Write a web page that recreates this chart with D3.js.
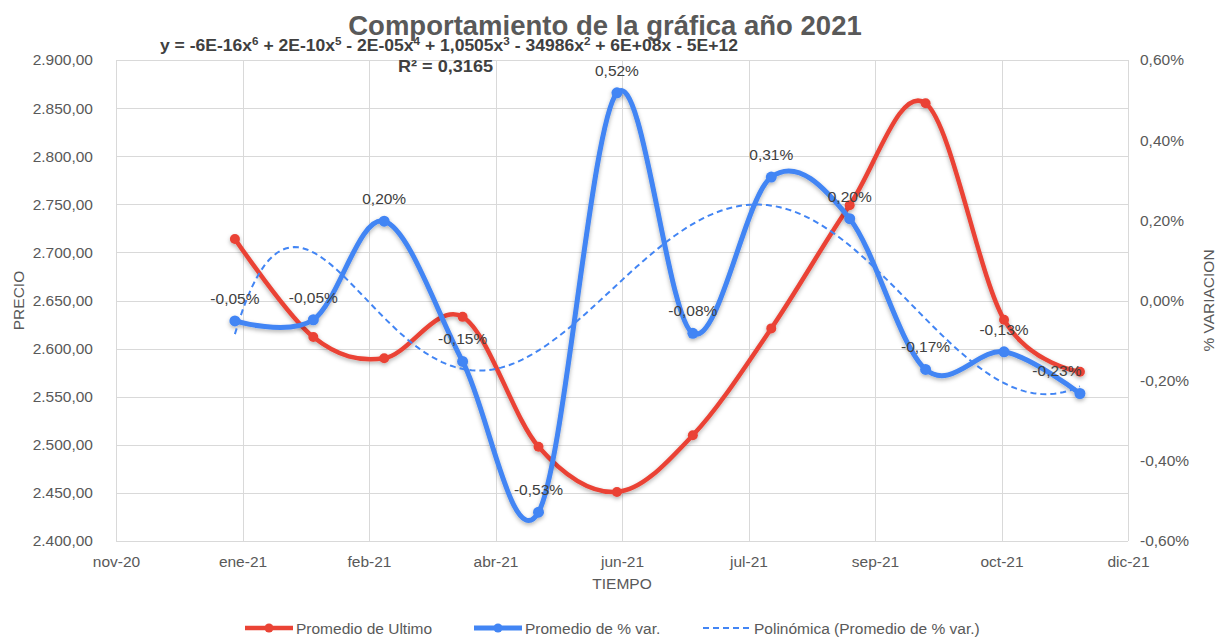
<!DOCTYPE html>
<html>
<head>
<meta charset="utf-8">
<script src="https://cdn.jsdelivr.net/npm/d3@7"></script>
<style>
  body { margin: 0; background: #fff; }
  text { font-family: "Liberation Sans", Arial, sans-serif; }
</style>
</head>
<body>
<div id="chart"></div>
<script>
// data
const fechas = ["2021-01-01", "2021-02-01", "2021-03-01", "2021-04-01", "2021-05-01", "2021-06-01",
                "2021-07-01", "2021-08-01", "2021-09-01", "2021-10-01", "2021-11-01", "2021-12-01"];
const promedioUltimo = [2714, 2612, 2590, 2633, 2498, 2451, 2510, 2621, 2749, 2855, 2630, 2576];
const promedioVar = [-0.051, -0.048, 0.198, -0.152, -0.528, 0.518, -0.082, 0.308, 0.204, -0.172, -0.128, -0.232];
const mesesCortos = ["ene", "feb", "mar", "abr", "may", "jun", "jul", "ago", "sep", "oct", "nov", "dic"];
const ticksPrecio = [2400, 2450, 2500, 2550, 2600, 2650, 2700, 2750, 2800, 2850, 2900];
const ticksVar = [-0.6, -0.4, -0.2, 0, 0.2, 0.4, 0.6];
const leyenda = ["Promedio de Ultimo", "Promedio de % var.", "Polinómica (Promedio de % var.)"];

const W = 1217, H = 638;
const margin = { top: 60, right: 89, bottom: 97, left: 116 };
const width = W - margin.left - margin.right,
      height = H - margin.top - margin.bottom;

const rojo = "#ea4335", azul = "#4285f4", gris = "#595959", grid = "#d9d9d9";
const fs = "15.5px";

const es = d3.formatLocale({ decimal: ",", thousands: ".", grouping: [3], currency: ["", ""], minus: "-" });
const fmtPrecio = es.format(",.2f");
const fmtPct = v => es.format(".2f")(v) + "%";

const data = fechas.map((f, i) => ({
  fecha: new Date(f + "T00:00:00Z"),
  ultimo: promedioUltimo[i],
  variacion: promedioVar[i]
}));

const svg = d3.select("#chart").append("svg")
  .attr("width", W)
  .attr("height", H);

const defs = svg.append("defs");
defs.append("filter").attr("id", "sombra")
  .attr("x", "-10%").attr("y", "-10%").attr("width", "120%").attr("height", "130%")
  .append("feDropShadow")
    .attr("dx", 0).attr("dy", 2).attr("stdDeviation", 2)
    .attr("flood-color", "#000").attr("flood-opacity", 0.3);

const g = svg.append("g")
  .attr("transform", `translate(${margin.left},${margin.top})`);

// scales: Excel date axis, 50 day major unit
const inicio = new Date(Date.UTC(2020, 10, 15)),
      fin = new Date(Date.UTC(2021, 11, 20));
const x = d3.scaleUtc().domain([inicio, fin]).range([0, width]);
const yL = d3.scaleLinear().domain([2400, 2900]).range([height, 0]);
const yR = d3.scaleLinear().domain([-0.6, 0.6]).range([height, 0]);

const xTicks = d3.range(0, 9).map(k => d3.utcDay.offset(inicio, k * 50));
const fmtFecha = d => mesesCortos[d.getUTCMonth()] + "-" + String(d.getUTCFullYear()).slice(2);

// gridlines
g.append("g").selectAll("line").data(ticksPrecio).enter().append("line")
  .attr("x1", 0).attr("x2", width)
  .attr("y1", d => Math.round(yL(d)) + 0.5).attr("y2", d => Math.round(yL(d)) + 0.5)
  .attr("stroke", grid);

g.append("g").selectAll("line").data(xTicks).enter().append("line")
  .attr("x1", d => Math.round(x(d)) + 0.5).attr("x2", d => Math.round(x(d)) + 0.5)
  .attr("y1", 0).attr("y2", height)
  .attr("stroke", grid);

// axes
const axisL = g.append("g")
  .call(d3.axisLeft(yL).tickValues(ticksPrecio).tickFormat(fmtPrecio).tickSize(0).tickPadding(23));
const axisR = g.append("g")
  .attr("transform", `translate(${width},0)`)
  .call(d3.axisRight(yR).tickValues(ticksVar).tickFormat(fmtPct).tickSize(0).tickPadding(12));
const axisB = g.append("g")
  .attr("transform", `translate(0,${height})`)
  .call(d3.axisBottom(x).tickValues(xTicks).tickFormat(fmtFecha).tickSize(0).tickPadding(15));

[axisL, axisR, axisB].forEach(a => {
  a.select(".domain").remove();
  a.selectAll("text").attr("fill", gris).style("font-size", fs);
});

// series
const curvaUltimo = d3.line()
  .x(d => x(d.fecha)).y(d => yL(d.ultimo))
  .curve(d3.curveCatmullRom.alpha(0));
const curvaVar = d3.line()
  .x(d => x(d.fecha)).y(d => yR(d.variacion))
  .curve(d3.curveCatmullRom.alpha(0));

const serieRoja = g.append("g").attr("filter", "url(#sombra)");
serieRoja.append("path").datum(data)
  .attr("d", curvaUltimo)
  .attr("fill", "none").attr("stroke", rojo).attr("stroke-width", 4.5);
serieRoja.selectAll("circle").data(data).enter().append("circle")
  .attr("cx", d => x(d.fecha)).attr("cy", d => yL(d.ultimo))
  .attr("r", 5).attr("fill", rojo);

const serieAzul = g.append("g").attr("filter", "url(#sombra)");
serieAzul.append("path").datum(data)
  .attr("d", curvaVar)
  .attr("fill", "none").attr("stroke", azul).attr("stroke-width", 5);
serieAzul.selectAll("circle").data(data).enter().append("circle")
  .attr("cx", d => x(d.fecha)).attr("cy", d => yR(d.variacion))
  .attr("r", 5.5).attr("fill", azul);

// 6th order polynomial trend (least squares, like Excel)
function polyfit(xs, ys, grado) {
  const n = grado + 1;
  const A = d3.range(n).map(() => new Array(n + 1).fill(0));
  xs.forEach((xv, k) => {
    for (let i = 0; i < n; i++) {
      for (let j = 0; j < n; j++) A[i][j] += Math.pow(xv, i + j);
      A[i][n] += ys[k] * Math.pow(xv, i);
    }
  });
  for (let c = 0; c < n; c++) {
    let p = c;
    for (let r = c + 1; r < n; r++) if (Math.abs(A[r][c]) > Math.abs(A[p][c])) p = r;
    [A[c], A[p]] = [A[p], A[c]];
    for (let r = 0; r < n; r++) {
      if (r === c) continue;
      const f = A[r][c] / A[c][c];
      for (let j = c; j <= n; j++) A[r][j] -= f * A[c][j];
    }
  }
  return d3.range(n).map(i => A[i][n] / A[i][i]);
}

const t0 = +data[0].fecha, t1 = +data[data.length - 1].fecha;
const norm = t => (2 * (t - t0) / (t1 - t0)) - 1;
const coef = polyfit(data.map(d => norm(+d.fecha)), data.map(d => d.variacion), 6);
const evalPoly = t => coef.reduce((s, c, i) => s + c * Math.pow(t, i), 0);
const tendencia = d3.range(0, 201).map(k => {
  const t = t0 + (t1 - t0) * k / 200;
  return { fecha: new Date(t), v: evalPoly(norm(t)) };
});

g.append("path").datum(tendencia)
  .attr("d", d3.line().x(d => x(d.fecha)).y(d => yR(d.v)))
  .attr("fill", "none").attr("stroke", azul).attr("stroke-width", 2)
  .attr("stroke-dasharray", "6,4");

// data labels
g.append("g").selectAll("text").data(data).enter().append("text")
  .attr("x", (d, i) => x(d.fecha) + (i === data.length - 1 ? -23 : 0))
  .attr("y", d => yR(d.variacion) - 17)
  .attr("text-anchor", "middle")
  .attr("fill", "#404040")
  .style("font-size", fs)
  .text(d => fmtPct(d.variacion));

// titles
svg.append("text")
  .attr("x", 605).attr("y", 35)
  .attr("text-anchor", "middle")
  .attr("fill", gris)
  .style("font-size", "27.5px").style("font-weight", "bold")
  .text("Comportamiento de la gráfica año 2021");

// trendline equation, as Excel prints it
const ecuacion = [["y = -6E-16x", "6"], [" + 2E-10x", "5"], [" - 2E-05x", "4"], [" + 1,0505x", "3"],
                  [" - 34986x", "2"], [" + 6E+08x - 5E+12", ""]];
const eqY = 51;
const eq = svg.append("text")
  .attr("x", 160).attr("y", eqY)
  .attr("fill", "#404040")
  .attr("textLength", 578).attr("lengthAdjust", "spacingAndGlyphs")
  .style("font-size", "16.5px").style("font-weight", "bold");
ecuacion.forEach(([base, exp]) => {
  eq.append("tspan").attr("y", eqY).text(base);
  if (exp) eq.append("tspan").attr("y", eqY - 6).style("font-size", "11px").text(exp);
});

svg.append("text")
  .attr("x", 398).attr("y", 72)
  .attr("fill", "#404040")
  .attr("textLength", 95).attr("lengthAdjust", "spacingAndGlyphs")
  .style("font-size", "16.5px").style("font-weight", "bold")
  .text("R² = 0,3165");

svg.append("text")
  .attr("transform", `translate(24,${margin.top + height / 2}) rotate(-90)`)
  .attr("text-anchor", "middle")
  .attr("fill", gris).style("font-size", fs)
  .text("PRECIO");

svg.append("text")
  .attr("transform", `translate(1214,${margin.top + height / 2}) rotate(-90)`)
  .attr("text-anchor", "middle")
  .attr("fill", gris).style("font-size", fs)
  .text("% VARIACION");

svg.append("text")
  .attr("x", margin.left + width / 2).attr("y", 589)
  .attr("text-anchor", "middle")
  .attr("fill", gris).style("font-size", fs)
  .text("TIEMPO");

// legend
const ly = 628;
const itemsLeyenda = [
  { x: 245, color: rojo, ancho: 4.5, dash: null, punto: true },
  { x: 474, color: azul, ancho: 5, dash: null, punto: true },
  { x: 703, color: azul, ancho: 2, dash: "6,4", punto: false }
];
itemsLeyenda.forEach((it, i) => {
  const lg = svg.append("g");
  lg.append("line")
    .attr("x1", it.x).attr("x2", it.x + 48).attr("y1", ly).attr("y2", ly)
    .attr("stroke", it.color).attr("stroke-width", it.ancho)
    .attr("stroke-dasharray", it.dash);
  if (it.punto) {
    lg.append("circle").attr("cx", it.x + 24).attr("cy", ly).attr("r", 4.5).attr("fill", it.color);
  }
  lg.append("text")
    .attr("x", it.x + 51).attr("y", ly + 5.5)
    .attr("fill", gris).style("font-size", fs)
    .text(leyenda[i]);
});
</script>
</body>
</html>
